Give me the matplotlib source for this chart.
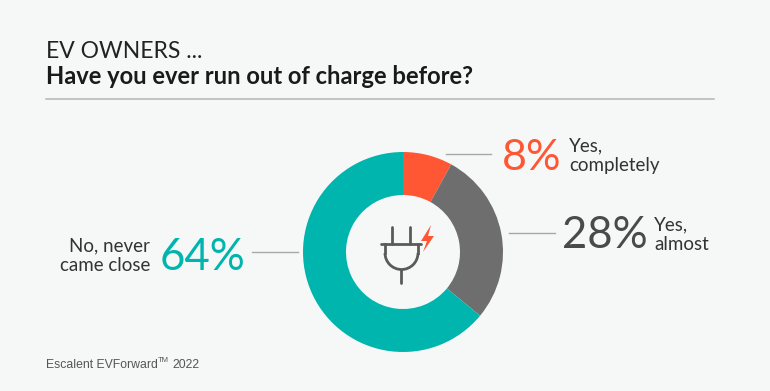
import matplotlib
matplotlib.use("Agg")
import matplotlib.pyplot as plt
from matplotlib.patches import Arc, Polygon

categories = ["Yes, completely", "Yes, almost", "No, never came close"]
values = [8, 28, 64]
colors = ["#FF5733", "#6E6E6E", "#00B5AD"]
title_top = "EV OWNERS ..."
title_bold = "Have you ever run out of charge before?"

W, H = 770, 391
BG = "#F6F8F8"
fig = plt.figure(figsize=(W / 100, H / 100), dpi=100, facecolor=BG)
ax = fig.add_axes([0, 0, 1, 1])
ax.set_xlim(0, W)
ax.set_ylim(0, H)
ax.set_aspect("equal")
ax.axis("off")
Y = lambda p: H - p
FONT = "Lato"

ax.pie(values, colors=colors, startangle=90, counterclock=False, radius=100,
       center=(403, Y(252)), frame=True,
       wedgeprops=dict(width=43, linewidth=0))
ax.set_xlim(0, W)
ax.set_ylim(0, H)
ax.axis("off")

ax.text(45.5, Y(51.5), title_top, fontsize=16.5, family=FONT, color="#222222", va="center", ha="left")
ax.text(45.5, Y(76.5), title_bold, fontsize=17.1, family=FONT, weight="bold", color="#1a1a1a", va="center", ha="left")
ax.plot([46, 714], [Y(99), Y(99)], color="#B5B5B5", lw=1.1)

# leaders
lead = "#A8A8A8"
ax.plot([446, 491], [Y(154), Y(154)], color=lead, lw=1)
ax.plot([509, 555], [Y(233), Y(233)], color=lead, lw=1)
ax.plot([252, 298], [Y(252), Y(252)], color=lead, lw=1)

# big numbers
ax.text(502, Y(158), f"{values[0]}%", fontsize=31, family=FONT, color=colors[0], va="center", ha="left")
ax.text(562, Y(236), f"{values[1]}%", fontsize=31.5, family=FONT, color="#4A4A4A", va="center", ha="left")
ax.text(245, Y(258), f"{values[2]}%", fontsize=31.5, family=FONT, color=colors[2], va="center", ha="right")

# labels
ax.text(569, Y(156), "Yes,\ncompletely", fontsize=13.5, family=FONT, color="#333333", va="center", ha="left", linespacing=1.2)
ax.text(654, Y(235), "Yes,\nalmost", fontsize=13.5, family=FONT, color="#333333", va="center", ha="left", linespacing=1.2)
ax.text(150, Y(256), "No, never\ncame close", fontsize=13.5, family=FONT, color="#333333", va="center", ha="right", linespacing=1.2)

# footer
foot = dict(family="Liberation Sans", color="#555555", ha="left", va="baseline")
ax.text(46, Y(368), "Escalent EVForward", fontsize=8.8, **foot)
ax.text(157.5, Y(362), "TM", fontsize=5.5, **foot)
ax.text(172, Y(368), "2022", fontsize=8.8, **foot)

# plug icon
ic = "#5A5A5A"
lw = 2.0
ax.plot([392, 392], [Y(227), Y(244)], color=ic, lw=lw, solid_capstyle="round")
ax.plot([410, 410], [Y(227), Y(244)], color=ic, lw=lw, solid_capstyle="round")
ax.plot([381, 421], [Y(244), Y(244)], color=ic, lw=lw, solid_capstyle="round")
ax.plot([401, 401], [Y(270), Y(283)], color=ic, lw=lw, solid_capstyle="round")
ax.plot([385, 385], [Y(244), Y(253)], color=ic, lw=lw)
ax.plot([418, 418], [Y(244), Y(253)], color=ic, lw=lw)
ax.add_patch(Arc((401.5, Y(253)), 33, 33, theta1=180, theta2=360, color=ic, lw=lw))
ax.add_patch(Polygon([(431, Y(225)), (421, Y(241)), (427, Y(241)), (423, Y(252)),
                      (434, Y(236)), (428, Y(236))], closed=True, fc=colors[0], ec="none"))

fig.savefig("out.png", dpi=100, facecolor=BG)
